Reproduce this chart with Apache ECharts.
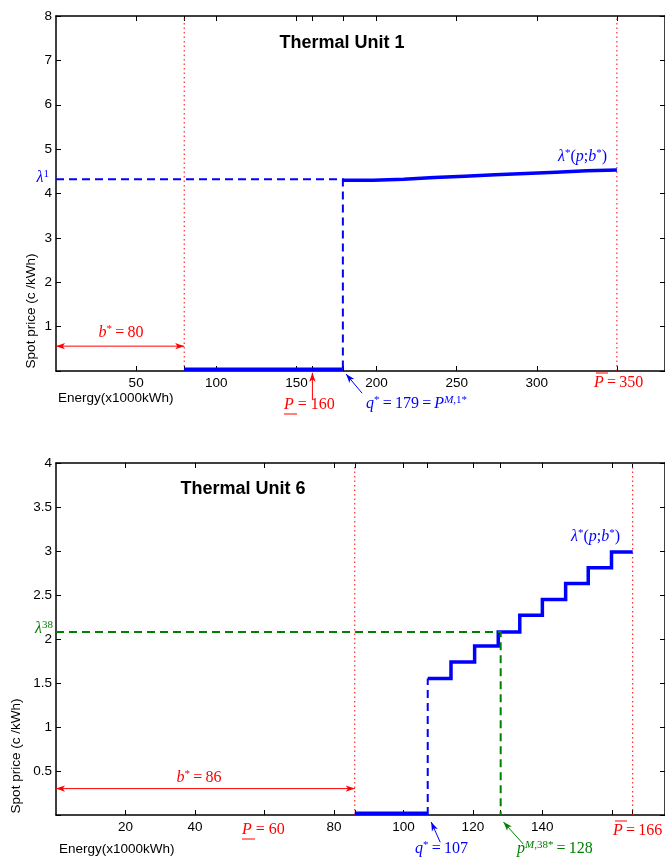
<!DOCTYPE html>
<html>
<head>
<meta charset="utf-8">
<script src="https://cdn.jsdelivr.net/npm/echarts@6/dist/echarts.min.js"></script>
<style>
  html, body { margin: 0; padding: 0; background: #fff; }
  #chart { width: 665px; height: 859px; }
</style>
</head>
<body>
<div id="chart"></div>
<script>
// ---- Thermal unit 1 ----
const u1Edges = [179, 198, 217, 236, 255, 274, 293, 312, 331, 350];
const u1Prices = [4.30, 4.32, 4.36, 4.39, 4.42, 4.45, 4.48, 4.51, 4.53];
const u1Bid = 80, u1Pmin = 160, u1Q = 179, u1Pmax = 350;
const u1Lambda = 4.32, u1Floor = 0.04;
const u1TickVals = [50, 80, 100, 150, 160, 179, 200, 250, 300, 350];
const u1LabelVals = [50, 100, 150, 200, 250, 300];

// ---- Thermal unit 6 ----
const u6Edges = [107, 113.7, 120.5, 127.3, 133.5, 140, 146.7, 153.2, 159.9, 166];
const u6Prices = [1.55, 1.74, 1.92, 2.08, 2.27, 2.45, 2.63, 2.81, 2.99];
const u6Bid = 86, u6Pmin = 60, u6Q = 107, u6PM = 128, u6Pmax = 166;
const u6Lambda = 2.08, u6Floor = 0.02;
const u6TickVals = [20, 40, 60, 80, 86, 100, 107, 120, 128, 140, 160, 166];
const u6LabelVals = [20, 40, 80, 100, 120, 140];

const RED = '#ff0000', BLUE = '#0000ff', GREEN = '#008000';

// annotation arrows, in data units: from -> to (tip)
const u1Arrows = [
  { from: [0, 0.56], to: [u1Bid, 0.56], both: true, color: RED },
  { from: [u1Pmin, -0.65], to: [u1Pmin, -0.04], color: RED },
  { from: [191, -0.5], to: [181, -0.07], color: BLUE }
];
const u6Arrows = [
  { from: [0, 0.30], to: [u6Bid, 0.30], both: true, color: RED },
  { from: [110.6, -0.31], to: [108, -0.08], color: BLUE },
  { from: [134.5, -0.33], to: [128.8, -0.08], color: GREEN }
];

function stairs(edges, prices) {
  const pts = [];
  prices.forEach((p, i) => {
    pts.push([edges[i], p]);
    pts.push([edges[i + 1], p]);
  });
  return pts;
}

function line(idx, data, color, width, type, z) {
  return {
    type: 'line', xAxisIndex: idx, yAxisIndex: idx, data: data,
    symbol: 'none', silent: true, z: z || 2,
    lineStyle: { color: color, width: width, type: type || 'solid', join: 'miter' }
  };
}

function arrowSeries(idx, list) {
  return {
    type: 'custom', xAxisIndex: idx, yAxisIndex: idx, clip: false, silent: true, z: 5,
    data: list.map(a => [a.from[0], a.from[1], a.to[0], a.to[1]]),
    renderItem: function (params, api) {
      const a = list[params.dataIndex];
      const p1 = api.coord([api.value(0), api.value(1)]);
      const p2 = api.coord([api.value(2), api.value(3)]);
      const head = (tip, tail) => {
        const dx = tip[0] - tail[0], dy = tip[1] - tail[1];
        const len = Math.sqrt(dx * dx + dy * dy) || 1;
        const ux = dx / len, uy = dy / len, L = 9, W = 3.2;
        return {
          type: 'polygon',
          shape: { points: [tip, [tip[0] - ux * L - uy * W, tip[1] - uy * L + ux * W],
                            [tip[0] - ux * L * 0.75, tip[1] - uy * L * 0.75],
                            [tip[0] - ux * L + uy * W, tip[1] - uy * L - ux * W]] },
          style: { fill: a.color }
        };
      };
      const children = [
        { type: 'line', shape: { x1: p1[0], y1: p1[1], x2: p2[0], y2: p2[1] },
          style: { stroke: a.color, lineWidth: 1 } },
        head(p2, p1)
      ];
      if (a.both) children.push(head(p1, p2));
      return { type: 'group', children: children };
    }
  };
}

function xAxes(grid, max, ticks, labels) {
  const common = {
    type: 'value', gridIndex: grid, min: 0, max: max,
    splitLine: { show: false },
    axisLine: { onZero: false, lineStyle: { color: '#000', width: 1.5 } },
    axisTick: { inside: true, length: 5, customValues: ticks, lineStyle: { color: '#000', width: 1 } }
  };
  return [
    Object.assign({}, common, { position: 'bottom',
      axisLabel: { customValues: labels, color: '#000', fontSize: 13.5, fontFamily: 'Liberation Sans', margin: 5 } }),
    Object.assign({}, common, { position: 'top', axisLabel: { show: false } })
  ];
}

function yAxes(grid, max, interval) {
  const common = {
    type: 'value', gridIndex: grid, min: 0, max: max, interval: interval,
    splitLine: { show: false },
    axisLine: { onZero: false, lineStyle: { color: '#000', width: 1.5 } },
    axisTick: { inside: true, length: 5, lineStyle: { color: '#000', width: 1 } }
  };
  return [
    Object.assign({}, common, { position: 'left',
      axisLabel: { color: '#000', fontSize: 13.5, fontFamily: 'Liberation Sans', margin: 4,
        formatter: v => (v === 0 ? '' : String(v)) } }),
    Object.assign({}, common, { position: 'right', axisLabel: { show: false } })
  ];
}

function rich(color) {
  const base = { fontFamily: 'Liberation Serif', fill: color, verticalAlign: 'bottom' };
  return {
    i: Object.assign({}, base, { fontStyle: 'italic', fontSize: 16 }),
    n: Object.assign({}, base, { fontSize: 16 }),
    s: Object.assign({}, base, { fontSize: 11, padding: [0, 0, 6, 0] }),
    si: Object.assign({}, base, { fontSize: 11, fontStyle: 'italic', padding: [0, 0, 6, 0] })
  };
}

function math(x, y, text, color, align) {
  return { type: 'text', x: x, y: y, silent: true, z: 10,
    style: { text: text, rich: rich(color), fill: color, align: align || 'left', verticalAlign: 'middle' } };
}
function plain(x, y, text, opts) {
  return Object.assign({ type: 'text', x: x, y: y, silent: true, z: 10,
    style: Object.assign({ text: text, fill: '#000', font: '13.5px "Liberation Sans"',
      align: 'left', verticalAlign: 'middle' }, opts || {}) });
}
function bar(x1, x2, y, color) {
  return { type: 'line', silent: true, z: 10, shape: { x1: x1, y1: y, x2: x2, y2: y },
    style: { stroke: color, lineWidth: 1 } };
}
const eq = '\u2009=\u2009';

const graphics = [
  plain(342, 43, 'Thermal Unit 1', { font: 'bold 18px "Liberation Sans"', align: 'center' }),
  Object.assign(plain(31, 311, 'Spot price (c /kWh)', { align: 'center' }), { rotation: Math.PI / 2 }),
  plain(58, 398, 'Energy(x1000kWh)'),
  math(49, 177, '{i|λ}{s|1}', BLUE, 'right'),
  math(558, 156, '{i|λ}{s|*}{n|(}{i|p}{n|;}{i|b}{s|*}{n|)}', BLUE),
  math(121, 332, '{i|b}{s|*}{n|' + eq + u1Bid + '}', RED, 'center'),
  math(284, 405, '{i|P}{n| = ' + u1Pmin + '}', RED),
  bar(284, 297, 414, RED),
  math(366, 403, '{i|q}{s|*}{n|' + eq + u1Q + eq + '}{i|P}{si|M}{s|,1*}', BLUE),
  math(594, 383, '{i|P}{n|' + eq + u1Pmax + '}', RED),
  bar(596, 608, 373, RED),

  plain(243, 489, 'Thermal Unit 6', { font: 'bold 18px "Liberation Sans"', align: 'center' }),
  Object.assign(plain(16, 756, 'Spot price (c /kWh)', { align: 'center' }), { rotation: Math.PI / 2 }),
  plain(59, 849, 'Energy(x1000kWh)'),
  math(53, 628, '{i|λ}{s|38}', GREEN, 'right'),
  math(571, 536, '{i|λ}{s|*}{n|(}{i|p}{n|;}{i|b}{s|*}{n|)}', BLUE),
  math(199, 777, '{i|b}{s|*}{n|' + eq + u6Bid + '}', RED, 'center'),
  math(242, 830, '{i|P}{n| = ' + u6Pmin + '}', RED),
  bar(242, 255, 839, RED),
  math(415, 848, '{i|q}{s|*}{n|' + eq + u6Q + '}', BLUE),
  math(517, 848, '{i|p}{si|M}{s|,38*}{n|' + eq + u6PM + '}', GREEN),
  math(613, 831, '{i|P}{n|' + eq + u6Pmax + '}', RED),
  bar(615, 627, 821, RED)
];

const chart = echarts.init(document.getElementById('chart'), null, { renderer: 'canvas' });
chart.setOption({
  animation: false,
  backgroundColor: '#fff',
  grid: [
    { left: 56, top: 16, width: 611, height: 355 },
    { left: 56, top: 463, width: 611, height: 352 }
  ],
  xAxis: xAxes(0, 380, u1TickVals, u1LabelVals).concat(xAxes(1, 175.3, u6TickVals, u6LabelVals)),
  yAxis: yAxes(0, 8, 1).concat(yAxes(1, 4, 0.5)),
  series: [
    // unit 1
    line(0, [[u1Bid, 0], [u1Bid, 8]], RED, 1, [1.5, 3], 1),
    line(0, [[u1Pmax, 0], [u1Pmax, 8]], RED, 1, [1.5, 3], 1),
    line(0, [[0, u1Lambda], [u1Q, u1Lambda], [u1Q, 0]], BLUE, 2, [8, 5], 2),
    line(0, [[u1Bid, u1Floor], [u1Q, u1Floor]], BLUE, 3.5, 'solid', 3),
    line(0, stairs(u1Edges, u1Prices), BLUE, 3.5, 'solid', 3),
    arrowSeries(0, u1Arrows),
    // unit 6
    line(2, [[u6Bid, 0], [u6Bid, 4]], RED, 1, [1.5, 3], 1),
    line(2, [[u6Pmax, 0], [u6Pmax, 4]], RED, 1, [1.5, 3], 1),
    line(2, [[u6Q, 0], [u6Q, u6Prices[0]]], BLUE, 2, [8, 5], 2),
    line(2, [[u6Bid, u6Floor], [u6Q, u6Floor]], BLUE, 3.5, 'solid', 3),
    line(2, stairs(u6Edges, u6Prices), BLUE, 3.5, 'solid', 3),
    line(2, [[0, u6Lambda], [u6PM, u6Lambda], [u6PM, 0]], GREEN, 2, [8, 5], 4),
    arrowSeries(2, u6Arrows)
  ],
  graphic: graphics
});
</script>
</body>
</html>
